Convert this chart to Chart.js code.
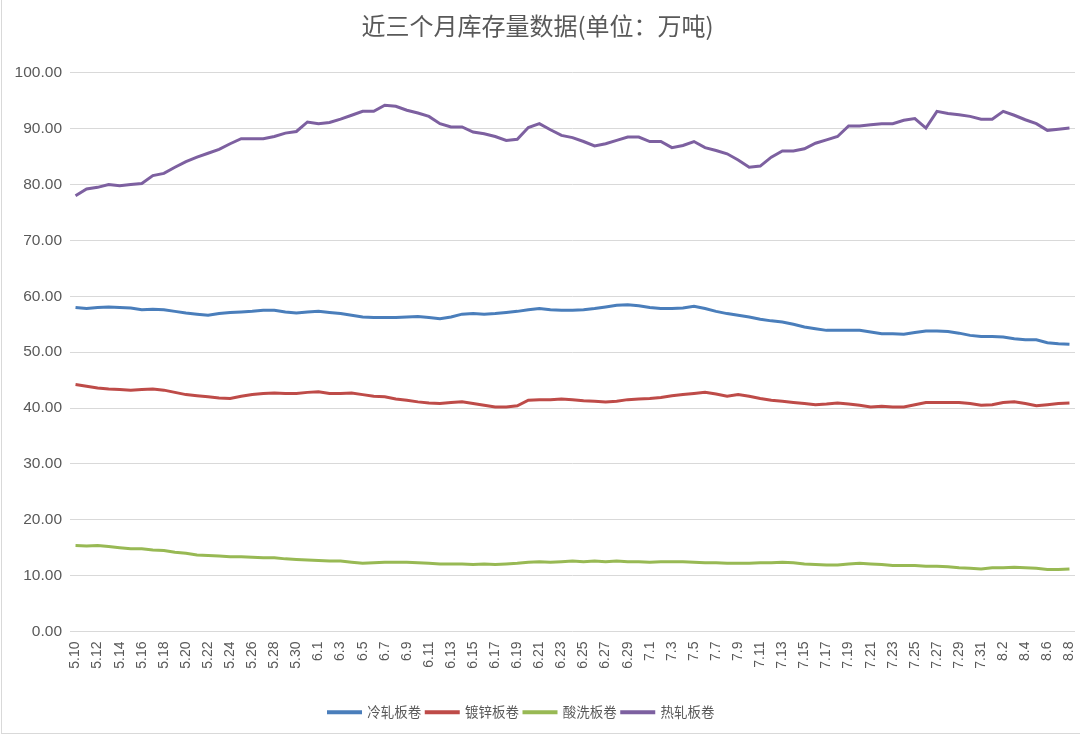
<!DOCTYPE html>
<html>
<head>
<meta charset="utf-8">
<script src="https://cdn.jsdelivr.net/npm/chart.js@4.4.1/dist/chart.umd.min.js"></script>
<style>
html,body{margin:0;padding:0;background:#fff;}
#wrap{position:relative;width:1080px;height:737px;}
</style>
</head>
<body>
<div id="wrap"><canvas id="c" width="1080" height="737"></canvas></div>
<script>
const titleText = '近三个月库存量数据(单位：万吨)';
const seriesNames = ['冷轧板卷', '镀锌板卷', '酸洗板卷', '热轧板卷'];

const dates = [
 '5.10','5.11','5.12','5.13','5.14','5.15','5.16','5.17','5.18','5.19','5.20','5.21','5.22','5.23','5.24','5.25','5.26','5.27','5.28','5.29','5.30','5.31',
 '6.1','6.2','6.3','6.4','6.5','6.6','6.7','6.8','6.9','6.10','6.11','6.12','6.13','6.14','6.15','6.16','6.17','6.18','6.19','6.20','6.21','6.22','6.23','6.24','6.25','6.26','6.27','6.28','6.29','6.30',
 '7.1','7.2','7.3','7.4','7.5','7.6','7.7','7.8','7.9','7.10','7.11','7.12','7.13','7.14','7.15','7.16','7.17','7.18','7.19','7.20','7.21','7.22','7.23','7.24','7.25','7.26','7.27','7.28','7.29','7.30','7.31',
 '8.1','8.2','8.3','8.4','8.5','8.6','8.7','8.8'
];

const coldRolled = [
 58.0,57.8,58.0,58.1,58.0,57.9,57.6,57.7,57.6,57.3,57.0,56.8,56.6,56.9,57.1,57.2,57.3,57.5,57.5,57.2,57.0,57.2,
 57.3,57.1,56.9,56.6,56.3,56.2,56.2,56.2,56.3,56.4,56.2,56.0,56.3,56.8,56.9,56.8,56.9,57.1,57.3,57.6,57.8,57.6,57.5,57.5,57.6,57.8,58.1,58.4,58.5,58.3,
 58.0,57.8,57.8,57.9,58.2,57.8,57.3,56.9,56.6,56.3,55.9,55.6,55.4,55.0,54.5,54.2,53.9,53.9,53.9,53.9,53.6,53.3,53.3,53.2,53.5,53.8,53.8,53.7,53.4,53.0,52.8,
 52.8,52.7,52.4,52.2,52.2,51.7,51.5,51.4
];

const galvanized = [
 44.2,43.9,43.6,43.4,43.3,43.2,43.3,43.4,43.2,42.8,42.4,42.2,42.0,41.8,41.7,42.1,42.4,42.6,42.7,42.6,42.6,42.8,
 42.9,42.6,42.6,42.7,42.4,42.1,42.0,41.6,41.4,41.1,40.9,40.8,41.0,41.1,40.8,40.5,40.2,40.2,40.4,41.4,41.5,41.5,41.6,41.5,41.3,41.2,41.1,41.2,41.5,41.6,
 41.7,41.9,42.2,42.4,42.6,42.8,42.5,42.1,42.4,42.1,41.7,41.4,41.2,41.0,40.8,40.6,40.7,40.9,40.7,40.5,40.2,40.3,40.2,40.2,40.6,41.0,41.0,41.0,41.0,40.8,40.5,
 40.6,41.0,41.1,40.8,40.4,40.6,40.8,40.9
];

const pickled = [
 15.4,15.3,15.4,15.2,15.0,14.8,14.8,14.6,14.5,14.2,14.0,13.7,13.6,13.5,13.4,13.4,13.3,13.2,13.2,13.0,12.9,12.8,
 12.7,12.6,12.6,12.4,12.2,12.3,12.4,12.4,12.4,12.3,12.2,12.1,12.1,12.1,12.0,12.1,12.0,12.1,12.2,12.4,12.5,12.4,12.5,12.6,12.5,12.6,12.5,12.6,12.5,12.5,
 12.4,12.5,12.5,12.5,12.4,12.3,12.3,12.2,12.2,12.2,12.3,12.3,12.4,12.3,12.1,12.0,11.9,11.9,12.1,12.2,12.1,12.0,11.8,11.8,11.8,11.7,11.7,11.6,11.4,11.3,11.2,
 11.4,11.4,11.5,11.4,11.3,11.1,11.1,11.2
];

const hotRolled = [
 78.0,79.2,79.5,80.0,79.8,80.0,80.2,81.6,82.0,83.1,84.1,84.9,85.6,86.3,87.3,88.2,88.2,88.2,88.6,89.2,89.5,91.2,
 90.9,91.1,91.7,92.4,93.1,93.1,94.2,94.0,93.3,92.8,92.2,90.9,90.3,90.3,89.4,89.1,88.6,87.9,88.1,90.2,90.9,89.8,88.8,88.4,87.7,86.9,87.3,87.9,88.5,88.5,
 87.7,87.7,86.6,87.0,87.7,86.6,86.1,85.5,84.4,83.1,83.3,84.9,86.0,86.0,86.4,87.4,88.0,88.6,90.5,90.5,90.7,90.9,90.9,91.5,91.8,90.1,93.1,92.7,92.5,92.2,91.7,
 91.7,93.1,92.4,91.6,90.9,89.7,89.9,90.1
];

const yTicks = [0,10,20,30,40,50,60,70,80,90,100];
const colors = ['#4A7EBB', '#BE4B48', '#98B954', '#7D60A0'];
const seriesData = [coldRolled, galvanized, pickled, hotRolled];

const frame = {
  id: 'frame',
  afterLayout(chart) {
    const lg = chart.legend;
    if (lg) { lg.left -= 16; lg.right -= 16; }
  },
  afterDraw(chart) {
    const ctx = chart.ctx;
    ctx.save();
    ctx.strokeStyle = '#d9d9d9';
    ctx.lineWidth = 1;
    ctx.strokeRect(1.5, -2, 1090, 735.5);
    ctx.restore();
  }
};

new Chart(document.getElementById('c'), {
  type: 'line',
  data: {
    labels: dates,
    datasets: seriesNames.map((n, i) => ({
      label: n,
      data: seriesData[i],
      borderColor: colors[i],
      backgroundColor: colors[i],
      borderWidth: 3,
      pointRadius: 0,
      tension: 0,
      fill: false
    }))
  },
  options: {
    responsive: false,
    animation: false,
    devicePixelRatio: 1,
    layout: { padding: { left: 0, right: 5, top: 0, bottom: 8 } },
    plugins: {
      title: {
        display: true,
        text: titleText,
        color: '#595959',
        font: { family: '"Noto Sans CJK SC", sans-serif', size: 24, weight: 'normal' },
        padding: { top: 11, bottom: 33 }
      },
      legend: {
        position: 'bottom',
        labels: {
          color: '#595959',
          font: { family: '"Noto Sans CJK SC", sans-serif', size: 13.5 },
          boxWidth: 32,
          boxHeight: 1,
          padding: 5
        }
      },
      tooltip: { enabled: false }
    },
    scales: {
      x: {
        offset: true,
        grid: { display: false, drawTicks: false },
        border: { display: false },
        ticks: {
          autoSkip: false,
          maxRotation: 90,
          minRotation: 90,
          padding: 10,
          color: '#595959',
          font: { family: '"Liberation Sans", Arial, sans-serif', size: 14 },
          callback: function(v, i) { return i % 2 === 0 ? dates[i] : ''; }
        },
        afterFit(scale) { scale.height = 69; scale.paddingRight = 0; scale.paddingLeft = 0; }
      },
      y: {
        min: 0,
        max: 100,
        afterBuildTicks(scale) { scale.ticks = yTicks.map(v => ({ value: v })); },
        grid: { color: '#d9d9d9', lineWidth: 1, drawTicks: false },
        border: { display: false },
        ticks: {
          padding: 8,
          color: '#595959',
          font: { family: '"Liberation Sans", Arial, sans-serif', size: 15.5 },
          callback: v => v.toFixed(2)
        },
        afterFit(scale) { scale.width = 70; }
      }
    }
  },
  plugins: [frame]
});
</script>
</body>
</html>
